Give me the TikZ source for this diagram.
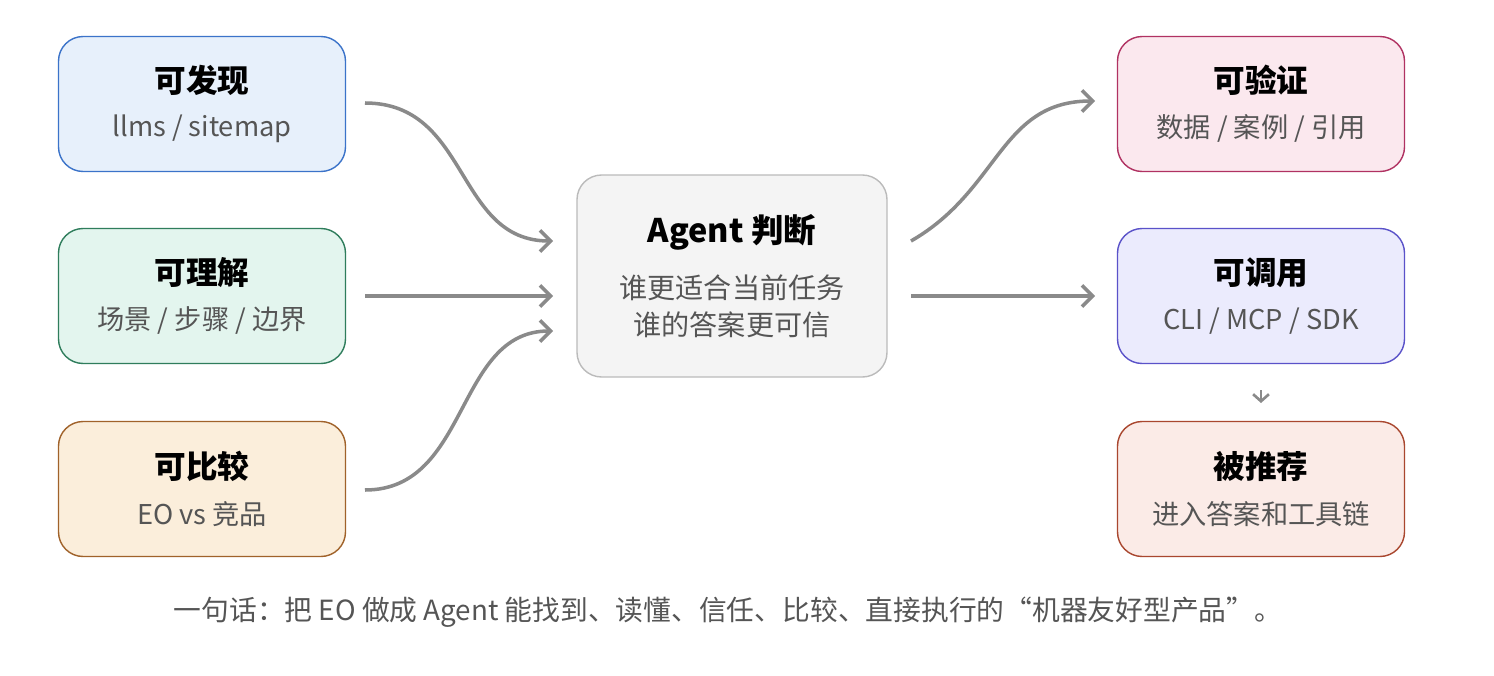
\documentclass[tikz,border=0pt]{standalone}
\usepackage{fontspec}
\setmainfont{Noto Sans CJK SC}
\usetikzlibrary{arrows.meta}
\definecolor{bluefill}{HTML}{E7F0FB}\definecolor{blueline}{HTML}{3B73C9}
\definecolor{greenfill}{HTML}{E3F5EE}\definecolor{greenline}{HTML}{2F7D5C}
\definecolor{orangefill}{HTML}{FBEEDB}\definecolor{orangeline}{HTML}{A0622A}
\definecolor{pinkfill}{HTML}{FBE8EE}\definecolor{pinkline}{HTML}{B03262}
\definecolor{purplefill}{HTML}{EBEBFD}\definecolor{purpleline}{HTML}{5A52C9}
\definecolor{redfill}{HTML}{FBEBE7}\definecolor{redline}{HTML}{A9472F}
\definecolor{midfill}{HTML}{F4F4F4}\definecolor{midline}{HTML}{BBBBBB}
\definecolor{subgray}{HTML}{555555}
\definecolor{arrowgray}{HTML}{8A8A8A}
\tikzset{
  card/.style={rounded corners=14pt,line width=0.8pt,minimum width=287*0.02cm,
               minimum height=135*0.02cm,align=center,inner sep=0pt},
  flow/.style={draw=arrowgray,line width=2pt,-{Straight Barb[length=6pt,width=12pt]}},
}
\newcommand{\cardtext}[2]{{\fontsize{18}{22}\selectfont\bfseries #1}\\[10pt]{\fontsize{15.5}{18}\selectfont\color{subgray}#2}}
\begin{document}
\begin{tikzpicture}[x=0.02cm,y=-0.02cm]
        \useasboundingbox[fill=white] (0,0) rectangle (1494,676);

        \node[card,fill=bluefill,draw=blueline] (find) at (202,104) {\cardtext{可发现}{llms / sitemap}};
        \node[card,fill=greenfill,draw=greenline] (know) at (202,296) {\cardtext{可理解}{场景 / 步骤 / 边界}};
        \node[card,fill=orangefill,draw=orangeline] (comp) at (202,489) {\cardtext{可比较}{EO vs 竞品}};

        \node[card,fill=midfill,draw=midline,minimum width=310*0.02cm,minimum height=202*0.02cm]
             (agent) at (732,276) {{\fontsize{18.5}{22}\selectfont\bfseries Agent 判断}\\[13pt]
             {\fontsize{16}{19}\selectfont\color{subgray}谁更适合当前任务}\\[5pt]
             {\fontsize{16}{19}\selectfont\color{subgray}谁的答案更可信}};

        \node[card,fill=pinkfill,draw=pinkline] (verify) at (1261,104) {\cardtext{可验证}{数据 / 案例 / 引用}};
        \node[card,fill=purplefill,draw=purpleline] (call) at (1261,296) {\cardtext{可调用}{CLI / MCP / SDK}};
        \node[card,fill=redfill,draw=redline] (recom) at (1261,489) {\cardtext{被推荐}{进入答案和工具链}};

        \coordinate (a1) at (365,103); \coordinate (b1) at (553,241);
        \coordinate (a2) at (365,296); \coordinate (b2) at (553,296);
        \coordinate (a3) at (365,490); \coordinate (b3) at (553,331);
        \coordinate (c1) at (911,241); \coordinate (d1) at (1095,101);
        \coordinate (c2) at (911,296); \coordinate (d2) at (1095,296);
        \coordinate (e1) at (1261,390); \coordinate (e2) at (1261,403);

        \draw[flow] (a1) .. controls (470,103) and (455,241) .. (b1);
        \draw[flow] (a2) -- (b2);
        \draw[flow] (a3) .. controls (470,490) and (455,331) .. (b3);
        \draw[flow] (c1) .. controls (1000,190) and (1000,101) .. (d1);
        \draw[flow] (c2) -- (d2);
        \draw[draw=arrowgray,line width=1.5pt,-{Straight Barb[length=4pt,width=9pt]}] (e1) -- (e2);

        \node[font=\fontsize{15.8}{19}\selectfont,text=subgray] (note) at (728,612)
             {一句话：把 EO 做成 Agent 能找到、读懂、信任、比较、直接执行的“机器友好型产品”。};
      \end{tikzpicture}
\end{document}
